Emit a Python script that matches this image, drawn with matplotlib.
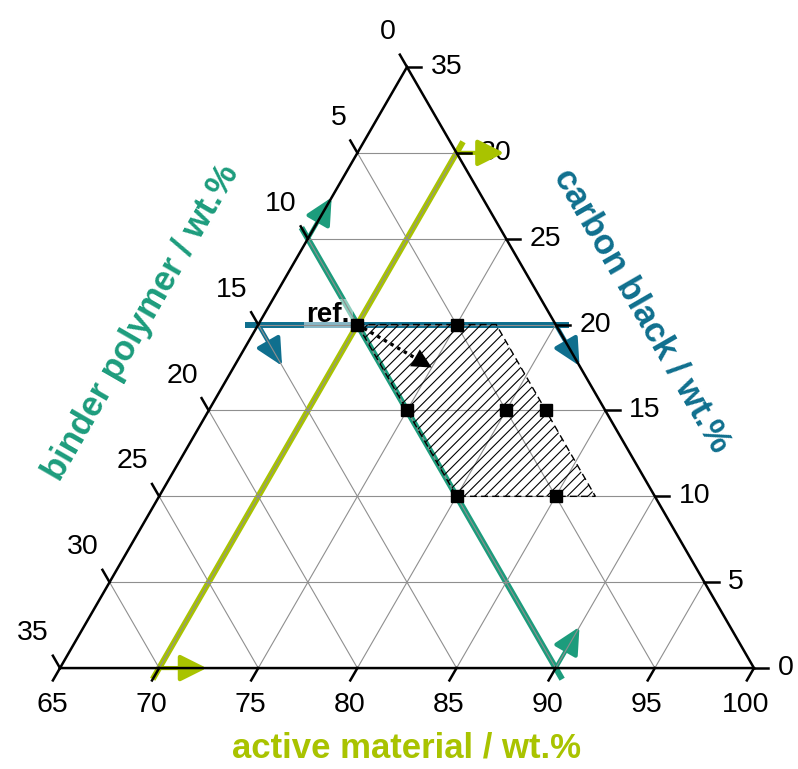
import numpy as np
import matplotlib.pyplot as plt
from matplotlib.patches import Polygon, FancyArrowPatch

plt.rcParams['font.family'] = ['Liberation Sans', 'DejaVu Sans']

# composition space: active material 65-100, carbon black 0-35, binder 0-35 (wt.%)
AM_MIN = 65
SPAN = 35
tick_vals = [0, 5, 10, 15, 20, 25, 30, 35]
am_ticks = [65, 70, 75, 80, 85, 90, 95, 100]

# reference formulation (AM, CB); binder = 100 - AM - CB
ref_am, ref_cb = 70, 20

# sampled formulations
sample_am = [70, 75, 75, 80, 82, 80, 85]
sample_cb = [20, 20, 15, 15, 15, 10, 10]

# explored window (hatched)
window_am = [70, 77, 87, 80]
window_cb = [20, 20, 10, 10]

# end of the dotted direction arrow
dir_am, dir_cb = 75, 17.5

YELLOW = '#a9c300'
TEAL = '#1c9c7c'
BLUE = '#0f6f8e'
GRID = '#8f8f8f'

H = np.sqrt(3) / 2


def tern(am, cb):
    am = np.asarray(am, dtype=float)
    cb = np.asarray(cb, dtype=float)
    return (am - AM_MIN) + 0.5 * cb, cb * H


fig = plt.figure(figsize=(7.98, 7.69), dpi=100)
ax = fig.add_axes([0, 0, 1, 1])
ax.set_xlim(-3.026, 37.22)
ax.set_ylim(-5.09, 33.69)
ax.axis('off')

# grid
for v in tick_vals[1:-1]:
    # carbon black = v
    x, y = tern([100 - v, AM_MIN], [v, v])
    ax.plot(x, y, color=GRID, lw=0.8, zorder=5)
    # binder = v
    x, y = tern([100 - v, AM_MIN], [0, SPAN - v])
    ax.plot(x, y, color=GRID, lw=0.8, zorder=5)
    # active material = 65 + v
    x, y = tern([AM_MIN + v, AM_MIN + v], [0, SPAN - v])
    ax.plot(x, y, color=GRID, lw=0.8, zorder=5)

# triangle frame
x, y = tern([AM_MIN, 100, AM_MIN, AM_MIN], [0, 0, SPAN, 0])
ax.plot(x, y, color='black', lw=1.8, zorder=6, solid_joinstyle='miter')

tl = 0.72
fs = 20.5
for v, am in zip(tick_vals, am_ticks):
    # bottom axis: active material
    bx, by = tern(am, 0)
    ax.plot([bx, bx - 0.5 * tl], [by, by - H * tl], color='black', lw=1.8, zorder=6)
    ax.text(bx - 0.4, by - 1.87, str(am), ha='center', va='center', fontsize=fs)
    # right axis: carbon black
    rx, ry = tern(100 - v, v)
    ax.plot([rx, rx + tl], [ry, ry], color='black', lw=1.8, zorder=6)
    ax.text(rx + 1.2, ry, str(v), ha='left', va='center', fontsize=fs)
    # left axis: binder
    lx, ly = tern(AM_MIN, SPAN - v)
    ax.plot([lx, lx - 0.5 * tl], [ly, ly + H * tl], color='black', lw=1.8, zorder=6)
    ax.text(lx - 0.55, ly + 1.76, str(v), ha='right', va='center', fontsize=fs)


def const_line(am, cb, color, direction, z):
    x, y = tern(am, cb)
    d = np.array([x[1] - x[0], y[1] - y[0]])
    d = d / np.hypot(*d)
    ext = 0.65
    ax.plot([x[0] - ext * d[0], x[1] + ext * d[0]],
            [y[0] - ext * d[1], y[1] + ext * d[1]],
            color=color, lw=4.3, solid_capstyle='butt', zorder=z)
    for px, py in zip(x, y):
        arr = FancyArrowPatch((px, py), (px + 2.4 * direction[0], py + 2.4 * direction[1]),
                              arrowstyle='-|>,head_length=0.8,head_width=0.4',
                              mutation_scale=20, color=color, lw=3,
                              shrinkA=0, shrinkB=0, zorder=z)
        ax.add_patch(arr)


# binder = 10 wt.%
const_line([AM_MIN, 90], [SPAN - 10, 0], TEAL, (0.5, H), 2)
# carbon black = 20 wt.%
const_line([100 - ref_cb, AM_MIN], [ref_cb, ref_cb], BLUE, (0.5, -H), 2)

ax.text(*tern(ref_am - 0.45, ref_cb + 0.15), 'ref.', ha='right', va='baseline',
        fontsize=20, fontweight='bold', zorder=3,
        bbox=dict(boxstyle='square,pad=0.1', fc='white', ec='none', alpha=0.5))

# active material = 70 wt.%
const_line([ref_am, ref_am], [0, SPAN - (ref_am - AM_MIN)], YELLOW, (1, 0), 4)

# hatched window: dashed outline plus 45 degree hatching clipped to it
wx, wy = tern(window_am, window_cb)
window = Polygon(np.column_stack([wx, wy]), closed=True, fill=False,
                 edgecolor='black', linestyle=(0, (5, 3)), lw=1.0, zorder=6)
ax.add_patch(window)
step = 0.52
for c in np.arange((wx - wy).min(), (wx - wy).max() + step, step):
    hx = np.array([wx.min() - 1, wx.max() + 1])
    hl, = ax.plot(hx, hx - c, color='black', lw=0.8, zorder=6)
    hl.set_clip_path(window)

# direction of increasing active material
sx, sy = tern(ref_am, ref_cb)
ex, ey = tern(dir_am, dir_cb)
ax.plot([sx, sx + 0.85 * (ex - sx)], [sy, sy + 0.85 * (ey - sy)], color='black',
        lw=2.4, linestyle=(0, (1, 1.3)), zorder=7)
ax.add_patch(FancyArrowPatch((sx + 0.6 * (ex - sx), sy + 0.6 * (ey - sy)), (ex, ey),
                             arrowstyle='-|>,head_length=0.7,head_width=0.35',
                             mutation_scale=20, color='black', lw=0,
                             shrinkA=0, shrinkB=0, zorder=7))

# sampled points
px, py = tern(sample_am, sample_cb)
ax.plot(px, py, 's', color='black', ms=9, zorder=8)

# axis titles
ax.text(17.5, -4.03, 'active material / wt.%', ha='center', va='center',
        fontsize=25, fontweight='bold', color=YELLOW)
ax.text(4.08, 17.45, 'binder polymer / wt.%', ha='center', va='center',
        fontsize=25, fontweight='bold', color=TEAL, rotation=60, rotation_mode='anchor')
ax.text(29.35, 18.05, 'carbon black / wt.%', ha='center', va='center',
        fontsize=25, fontweight='bold', color=BLUE, rotation=-60, rotation_mode='anchor')

fig.savefig('out.png', dpi=100)
